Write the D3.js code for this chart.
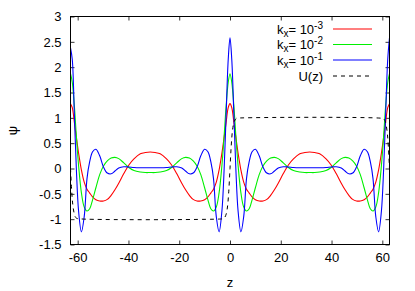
<!DOCTYPE html>
<html lang="en">
<head>
<meta charset="UTF-8">
<title>psi(z)</title>
<script src="https://d3js.org/d3.v7.min.js"></script>
<style>
  body { margin: 0; background: #fff; }
  svg { display: block; font-family: "Liberation Sans", Arial, sans-serif; }
</style>
</head>
<body>
<script>
// data
const zGrid = [-62.83,-62.13,-61.33,-60.53,-59.63,-58.53,-57.43,-56.33,-55.33,-54.13,-52.83,-51.33,-49.83,-48.33,-46.83,-45.33,-43.83,-41.83,-39.83,-37.83,-35.33,-33.33,-31.43,
  -29.5,-27.5,-25,-23,-21,-19,-17.5,-16,-14.5,-13,-11.5,-10,-8.7,-7.5,-6.5,-5.4,-4.3,-3.2,-2.3,-1.5,-0.7,0,
  0.7,1.5,2.3,3.2,4.3,5.4,6.5,7.5,8.7,10,11.5,13,14.5,16,17.5,19,21,23,25,27.5,29.5,31.4,
  33.33,35.33,37.83,39.83,41.83,43.83,45.33,46.83,48.33,49.83,51.33,52.83,54.13,55.33,56.33,57.43,58.53,59.63,60.53,61.33,62.13,62.83];

const psiRed = [1.28,1.2,0.92,0.62,0.3,-0.03,-0.27,-0.41,-0.48,-0.56,-0.615,-0.64,-0.64,-0.61,-0.53,-0.42,-0.29,-0.1,0.07,0.19,0.29,0.315,0.325,
  0.315,0.29,0.19,0.07,-0.1,-0.29,-0.42,-0.53,-0.61,-0.64,-0.64,-0.615,-0.56,-0.48,-0.41,-0.27,-0.03,0.3,0.62,0.92,1.2,1.28,
  1.2,0.92,0.62,0.3,-0.03,-0.27,-0.41,-0.48,-0.56,-0.615,-0.64,-0.64,-0.61,-0.53,-0.42,-0.29,-0.1,0.07,0.19,0.29,0.315,0.325,
  0.315,0.29,0.19,0.07,-0.1,-0.29,-0.42,-0.53,-0.61,-0.64,-0.64,-0.615,-0.56,-0.48,-0.41,-0.27,-0.03,0.3,0.62,0.92,1.2,1.28];

const psiGreen = [1.87,1.7,1.25,0.65,0.05,-0.48,-0.76,-0.84,-0.8,-0.62,-0.38,-0.12,0.05,0.15,0.205,0.22,0.195,0.11,0.02,-0.04,-0.07,-0.08,-0.08,
  -0.08,-0.07,-0.04,0.02,0.11,0.195,0.22,0.205,0.15,0.05,-0.12,-0.38,-0.62,-0.8,-0.84,-0.76,-0.48,0.05,0.65,1.25,1.7,1.87,
  1.7,1.25,0.65,0.05,-0.48,-0.76,-0.84,-0.8,-0.62,-0.38,-0.12,0.05,0.15,0.205,0.22,0.195,0.11,0.02,-0.04,-0.07,-0.08,-0.08,
  -0.08,-0.07,-0.04,0.02,0.11,0.195,0.22,0.205,0.15,0.05,-0.12,-0.38,-0.62,-0.8,-0.84,-0.76,-0.48,0.05,0.65,1.25,1.7,1.87];

const psiBlue = [2.38,2.15,1.1,0.0,-0.85,-1.25,-0.95,-0.2,0.12,0.33,0.38,0.25,0.03,-0.09,-0.105,-0.05,0.01,0.035,0.03,0.02,0.015,0.015,0.015,
  0.015,0.015,0.02,0.03,0.035,0.01,-0.05,-0.105,-0.09,0.03,0.25,0.38,0.33,0.12,-0.2,-0.95,-1.25,-0.85,0.0,1.1,2.15,2.58,
  2.15,1.1,0.0,-0.85,-1.25,-0.95,-0.2,0.12,0.33,0.38,0.25,0.03,-0.09,-0.105,-0.05,0.01,0.035,0.03,0.02,0.015,0.015,0.015,
  0.015,0.015,0.02,0.03,0.035,0.01,-0.05,-0.105,-0.09,0.03,0.25,0.38,0.33,0.12,-0.2,-0.95,-1.25,-0.85,0.0,1.1,2.15,2.58];

const zU = [-62.83,-62.4,-62,-61.5,-61,-60.5,-60,-3,-2.5,-2,-1.5,-1,-0.5,0,0.5,1,1.5,2,2.5,3,60,60.5,61,61.5,62,62.4,62.83];
const uVals = [0,-0.41,-0.68,-0.86,-0.95,-0.98,-0.99,-0.995,-0.99,-0.96,-0.9,-0.76,-0.46,0,0.46,0.76,0.9,0.96,0.99,0.995,0.99,0.98,0.95,0.86,0.68,0.41,0];

const xTicks = [-60,-40,-20,0,20,40,60];
const yTicks = [-1.5,-1,-0.5,0,0.5,1,1.5,2,2.5,3];
const legendExp = ["-3","-2","-1"];

// layout
const w = 415, h = 291;
const padL = 70.5, padR = 389.5, padT = 16.5, padB = 244.5;

const svg = d3.select("body").append("svg")
    .attr("width", w)
    .attr("height", h);

const x = d3.scaleLinear().domain([-62.83, 62.83]).range([padL, padR]);
const y = d3.scaleLinear().domain([-1.5, 3]).range([padB, padT]);

// axes, gnuplot style: ticks inside, mirrored
const fmt = d => String(d);
svg.append("g").attr("transform", `translate(0,${padB})`)
    .call(d3.axisBottom(x).tickValues(xTicks).tickFormat(fmt).tickSizeInner(-4).tickSizeOuter(0).tickPadding(8));
svg.append("g").attr("transform", `translate(0,${padT})`)
    .call(d3.axisTop(x).tickValues(xTicks).tickFormat("").tickSizeInner(-4).tickSizeOuter(0));
svg.append("g").attr("transform", `translate(${padL},0)`)
    .call(d3.axisLeft(y).tickValues(yTicks).tickFormat(fmt).tickSizeInner(-4).tickSizeOuter(0).tickPadding(9));
svg.append("g").attr("transform", `translate(${padR},0)`)
    .call(d3.axisRight(y).tickValues(yTicks).tickFormat("").tickSizeInner(-4).tickSizeOuter(0));

svg.selectAll(".domain").remove();
svg.selectAll(".tick line").attr("stroke", "#000").attr("stroke-width", 0.8);
svg.selectAll(".tick text")
    .attr("fill", "#000")
    .style("font-size", "13px")
    .style("font-family", "'Liberation Sans', Arial, sans-serif");

// clip
svg.append("clipPath").attr("id", "clip")
  .append("rect").attr("x", padL).attr("y", padT).attr("width", padR - padL).attr("height", padB - padT);

const line = d3.line()
    .x(d => x(d[0]))
    .y(d => y(d[1]))
    .curve(d3.curveCatmullRom.alpha(0.5));

const plot = svg.append("g").attr("clip-path", "url(#clip)");

const series = [
  {vals: psiRed, color: "#ff0000"},
  {vals: psiGreen, color: "#00f000"},
  {vals: psiBlue, color: "#0000ff"}
];

series.forEach(s => {
  plot.append("path")
    .datum(zGrid.map((z, i) => [z, s.vals[i]]))
    .attr("fill", "none")
    .attr("stroke", s.color)
    .attr("stroke-width", 1.1)
    .attr("d", line);
});

plot.append("path")
    .datum(zU.map((z, i) => [z, uVals[i]]))
    .attr("fill", "none")
    .attr("stroke", "#000")
    .attr("stroke-width", 1)
    .attr("stroke-dasharray", "4,4")
    .attr("d", line);

// frame
svg.append("rect")
    .attr("x", padL).attr("y", padT)
    .attr("width", padR - padL).attr("height", padB - padT)
    .attr("fill", "none").attr("stroke", "#000").attr("stroke-width", 1);

// axis labels
svg.append("text")
    .attr("x", x(0)).attr("y", 287)
    .attr("text-anchor", "middle")
    .style("font-size", "13px")
    .text("z");
svg.append("text")
    .attr("transform", `translate(17,${(padT + padB) / 2}) rotate(-90)`)
    .attr("text-anchor", "middle")
    .style("font-size", "13px")
    .text("ψ");

// legend
const legY = [29, 44.5, 60, 76];
const legColors = ["#ff0000", "#00f000", "#0000ff"];
legendExp.forEach((e, i) => {
  const t = svg.append("text")
      .attr("x", 323).attr("y", legY[i] + 4.5)
      .attr("text-anchor", "end")
      .style("font-size", "13px");
  t.append("tspan").text("k");
  t.append("tspan").attr("dy", 3).style("font-size", "10px").text("x");
  t.append("tspan").attr("dy", -3).text("= 10");
  t.append("tspan").attr("dy", -5).style("font-size", "10px").text(e);
  svg.append("line")
      .attr("x1", 333).attr("x2", 372)
      .attr("y1", legY[i]).attr("y2", legY[i])
      .attr("stroke", legColors[i]).attr("stroke-width", 1.1);
});
svg.append("text")
    .attr("x", 323).attr("y", legY[3] + 4.5)
    .attr("text-anchor", "end")
    .style("font-size", "13px")
    .text("U(z)");
svg.append("line")
    .attr("x1", 333).attr("x2", 372)
    .attr("y1", legY[3]).attr("y2", legY[3])
    .attr("stroke", "#000").attr("stroke-dasharray", "4,4");
</script>
</body>
</html>
